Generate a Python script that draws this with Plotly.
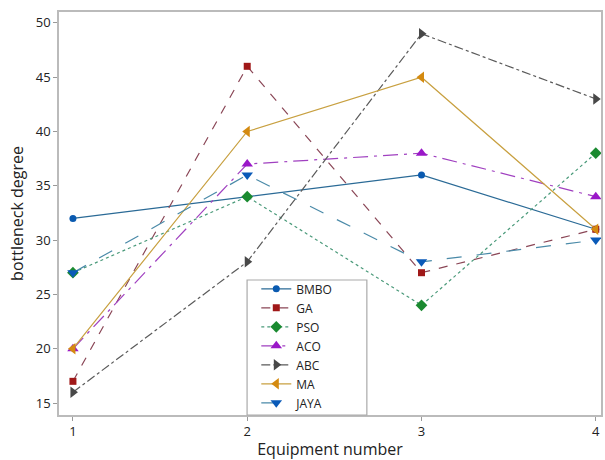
import plotly.graph_objects as go

equipment = [1, 2, 3, 4]
series_names = ["BMBO", "GA", "PSO", "ACO", "ABC", "MA", "JAYA"]
bmbo = [32, 34, 36, 31]
ga = [17, 46, 27, 31]
pso = [27, 34, 24, 38]
aco = [20, 37, 38, 34]
abc = [16, 28, 49, 43]
ma = [20, 40, 45, 31]
jaya = [27, 36, 28, 30]
values = [bmbo, ga, pso, aco, abc, ma, jaya]

line_colors = ["#2a6a96", "#8a4656", "#4a9a7a", "#a040c0", "#5a5a5a", "#c8a040", "#4a8aa8"]
marker_colors = ["#0a5ab0", "#a01818", "#1a8a30", "#9a18c8", "#484848", "#d48a10", "#0a5ab8"]
dashes = ["solid", "dash", "dot", "longdashdot", "dashdot", "solid", "longdash"]
symbols = ["circle", "square", "diamond", "triangle-up", "triangle-right", "triangle-left", "triangle-down"]
sizes = [7, 7, 9, 10, 10, 10, 10]

fig = go.Figure()
for name, ys, lc, mc, d, s, sz in zip(series_names, values, line_colors, marker_colors, dashes, symbols, sizes):
    fig.add_trace(go.Scatter(
        x=equipment, y=ys, name=name, mode="lines+markers",
        line=dict(color=lc, width=1.2, dash=d),
        marker=dict(symbol=s, color=mc, size=sz),
    ))

# legend frame box (wider than plotly's auto legend box)
fig.add_shape(type="rect", xref="paper", yref="paper",
              x0=0.347, x1=0.568, y0=0.0, y1=0.335,
              line=dict(color="#aaaaaa", width=1.2), fillcolor="white", layer="above")

fig.update_layout(
    width=605, height=460,
    margin=dict(l=59, r=2, t=12, b=42),
    paper_bgcolor="white", plot_bgcolor="white",
    font=dict(family="Open Sans, DejaVu Sans, sans-serif", color="#222"),
    legend=dict(
        x=0.364, y=0.349, xanchor="left", yanchor="top",
        bgcolor="rgba(0,0,0,0)", borderwidth=0,
        font=dict(size=12), tracegroupgap=0,
    ),
    xaxis=dict(
        range=[0.92, 4.03], tickvals=equipment, ticktext=[str(v) for v in equipment],
        showgrid=False, zeroline=False,
        showline=True, linecolor="#bbbbbb", linewidth=1.5, mirror=True,
        ticks="outside", ticklen=4, tickcolor="#999",
        tickfont=dict(size=13),
        title=dict(text="Equipment number", font=dict(size=16), standoff=6),
    ),
    yaxis=dict(
        range=[13.9, 51.0], tickvals=[15, 20, 25, 30, 35, 40, 45, 50],
        showgrid=False, zeroline=False,
        showline=True, linecolor="#bbbbbb", linewidth=1.5, mirror=True,
        ticks="outside", ticklen=4, tickcolor="#999",
        tickfont=dict(size=13),
        title=dict(text="bottleneck degree", font=dict(size=16), standoff=8),
    ),
)

fig.write_html("out.html")
